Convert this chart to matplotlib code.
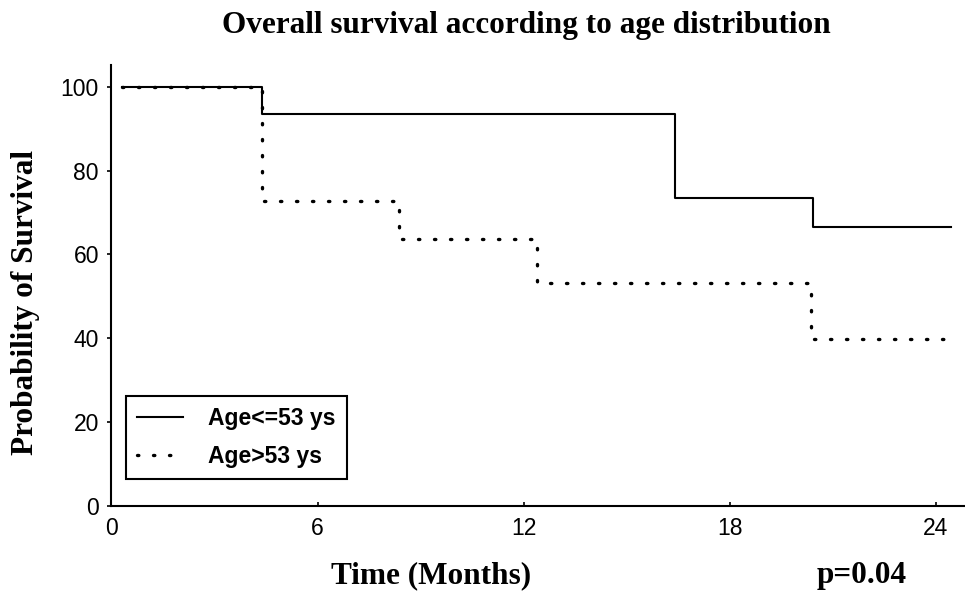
import numpy as np
import matplotlib
matplotlib.use("Agg")
import matplotlib.pyplot as plt

# Kaplan-Meier step curves (months, % surviving)
young_t = [0.3, 4.37, 16.4, 20.42, 24.43]
young_s = [100.0, 93.5, 73.4, 66.5, 66.5]
old_t = [0.3, 4.37, 8.36, 12.38, 20.38, 24.43]
old_s = [100.0, 72.7, 63.6, 53.2, 39.8, 39.8]
labels = ["Age<=53 ys", "Age>53 ys"]
xticks = [0, 6, 12, 18, 24]
yticks = [0, 20, 40, 60, 80, 100]

SERIF = "Liberation Serif"
SANS = "Liberation Sans"

fig = plt.figure(figsize=(9.65, 6.01), dpi=100)
ax = fig.add_axes([0.1155, 0.158, 0.8845, 0.734])

ax.step(young_t, young_s, where="post", color="black", linewidth=1.5,
        label=labels[0])
ax.step(old_t, old_s, where="post", color="black", linewidth=2.4,
        linestyle=(0, (0.4, 4.4)), dash_capstyle="round", label=labels[1])

ax.set_xlim(0, 24.85)
ax.set_ylim(0, 105.2)
ax.set_xticks(xticks)
ax.set_yticks(yticks)
ax.tick_params(axis="x", direction="in", length=3, width=1.2, pad=8)
ax.tick_params(axis="y", direction="out", length=3, width=1.2, pad=6)
for lab in ax.get_xticklabels() + ax.get_yticklabels():
    lab.set_fontfamily(SANS)
    lab.set_fontsize(16.5)

for side in ("top", "right"):
    ax.spines[side].set_visible(False)
for side in ("left", "bottom"):
    ax.spines[side].set_linewidth(1.5)

fig.text(0.545, 0.958, "Overall survival according to age distribution",
         ha="center", va="center", fontsize=22.5, fontweight="bold",
         family=SERIF)
fig.text(0.026, 0.497, "Probability of Survival", rotation=90,
         ha="center", va="center", fontsize=22.5, fontweight="bold",
         family=SERIF)
fig.text(0.447, 0.042, "Time (Months)", ha="center", va="center",
         fontsize=22.5, fontweight="bold", family=SERIF)
fig.text(0.893, 0.042, "p=0.04", ha="center", va="center",
         fontsize=22.5, fontweight="bold", family=SERIF)

leg = ax.legend(loc="lower left", bbox_to_anchor=(0.017, 0.061),
                prop={"family": SANS, "weight": "bold", "size": 16.5},
                fancybox=False, framealpha=1, edgecolor="black",
                handlelength=2.0, handletextpad=1.1, borderpad=0.5,
                labelspacing=0.62, borderaxespad=0)
leg.get_frame().set_linewidth(1.5)

fig.savefig("out.png", dpi=100)
